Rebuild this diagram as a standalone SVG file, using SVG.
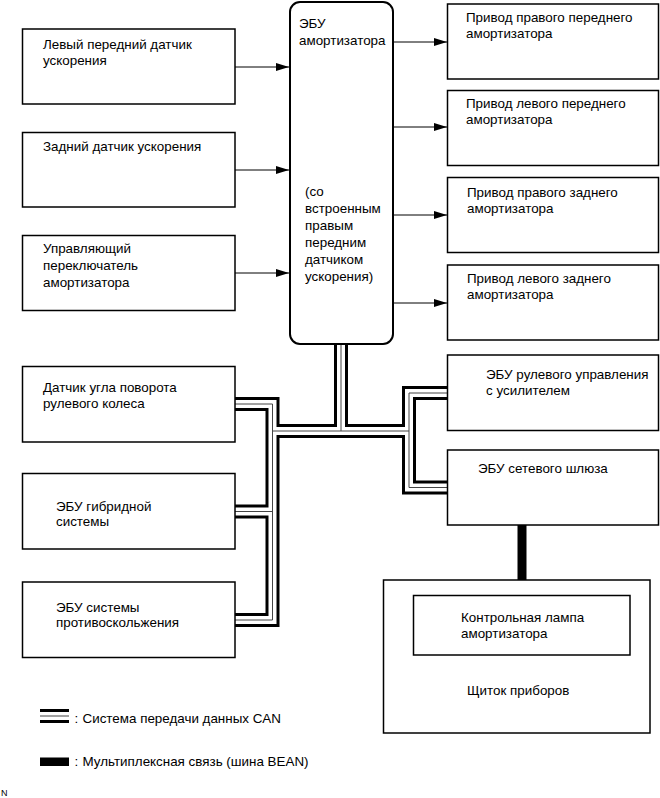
<svg xmlns="http://www.w3.org/2000/svg" width="660" height="798" viewBox="0 0 660 798">
<defs>
<marker id="ah" markerUnits="userSpaceOnUse" markerWidth="13" markerHeight="8" refX="13" refY="4" orient="auto">
<path d="M0,0 L13,4 L0,8 z" fill="#000"/>
</marker>
<style>
text{font-family:"Liberation Sans",Arial,sans-serif;font-size:13.4px;fill:#000}
.box{fill:#fff;stroke:#000;stroke-width:1.5}
.ecu{fill:#fff;stroke:#000;stroke-width:2}
.arr{stroke:#000;stroke-width:1;fill:none;marker-end:url(#ah)}
.b1{fill:none;stroke:#000;stroke-width:14}
.b2{fill:none;stroke:#fff;stroke-width:8}
.b3{fill:none;stroke:#444;stroke-width:1}
.bean{fill:none;stroke:#000;stroke-width:9}
</style>
</defs>
<rect width="660" height="798" fill="#fff"/>

<g id="connectors">
<g id="can-bus">
<path class="b1" d="M341,343 V431"/>
<path class="b1" d="M272.5,431 H409"/>
<path class="b1" d="M235,404 H272.5 V620 H235"/>
<path class="b1" d="M235,511.5 H272.5"/>
<path class="b1" d="M447,393 H409 V487.5 H447"/>
<path class="b2" d="M341,343 V431"/>
<path class="b2" d="M272.5,431 H409"/>
<path class="b2" d="M235,404 H272.5 V620 H235"/>
<path class="b2" d="M235,511.5 H272.5"/>
<path class="b2" d="M447,393 H409 V487.5 H447"/>
<path class="b3" d="M341,343 V431"/>
<path class="b3" d="M272.5,431 H409"/>
<path class="b3" d="M235,404 H272.5 V620 H235"/>
<path class="b3" d="M235,511.5 H272.5"/>
<path class="b3" d="M447,393 H409 V487.5 H447"/>
</g>
<path class="bean" d="M522,525 V580"/>
<path class="arr" d="M235,67 H289"/>
<path class="arr" d="M235,170 H289"/>
<path class="arr" d="M235,273 H289"/>
<path class="arr" d="M393,42 H447"/>
<path class="arr" d="M393,127 H447"/>
<path class="arr" d="M393,215 H447"/>
<path class="arr" d="M393,303 H447"/>
</g>

<g id="ecu-shock">
<rect class="ecu" x="290" y="2" width="103" height="342" rx="10"/>
<text x="299" y="28">ЭБУ</text>
<text x="299" y="45">амортизатора</text>
<text x="305" y="196">(со</text>
<text x="305" y="213">встроенным</text>
<text x="305" y="230">правым</text>
<text x="305" y="247">передним</text>
<text x="305" y="264">датчиком</text>
<text x="305" y="281">ускорения)</text>
</g>

<g id="left-front-sensor">
<rect class="box" x="22.5" y="29" width="212.5" height="75"/>
<text x="43" y="49">Левый передний датчик</text>
<text x="43" y="65">ускорения</text>
</g>
<g id="rear-sensor">
<rect class="box" x="22.5" y="132.5" width="212.5" height="74.5"/>
<text x="43" y="151">Задний датчик ускорения</text>
</g>
<g id="control-switch">
<rect class="box" x="22.5" y="235.5" width="212.5" height="75"/>
<text x="43" y="253">Управляющий</text>
<text x="43" y="270">переключатель</text>
<text x="43" y="287">амортизатора</text>
</g>
<g id="steering-angle-sensor">
<rect class="box" x="22.5" y="366.5" width="212.5" height="75.5"/>
<text x="43" y="392">Датчик угла поворота</text>
<text x="43" y="408">рулевого колеса</text>
</g>
<g id="hybrid-ecu">
<rect class="box" x="22.5" y="473.5" width="212.5" height="75.5"/>
<text x="56" y="511">ЭБУ гибридной</text>
<text x="56" y="526">системы</text>
</g>
<g id="skid-control-ecu">
<rect class="box" x="22.5" y="582" width="212.5" height="75.5"/>
<text x="56" y="612">ЭБУ системы</text>
<text x="56" y="627">противоскольжения</text>
</g>

<g id="act-rf">
<rect class="box" x="447.5" y="4" width="211" height="75"/>
<text x="466" y="22">Привод правого переднего</text>
<text x="466" y="38">амортизатора</text>
</g>
<g id="act-lf">
<rect class="box" x="447.5" y="90.5" width="211" height="75"/>
<text x="466" y="108">Привод левого переднего</text>
<text x="466" y="124">амортизатора</text>
</g>
<g id="act-rr">
<rect class="box" x="447.5" y="177.5" width="211" height="75"/>
<text x="467" y="197">Привод правого заднего</text>
<text x="467" y="213">амортизатора</text>
</g>
<g id="act-lr">
<rect class="box" x="447.5" y="265" width="211" height="75"/>
<text x="467" y="283">Привод левого заднего</text>
<text x="467" y="299">амортизатора</text>
</g>
<g id="eps-ecu">
<rect class="box" x="447.5" y="355" width="211" height="75.5"/>
<text x="486" y="379">ЭБУ рулевого управления</text>
<text x="486" y="395">с усилителем</text>
</g>
<g id="gateway-ecu">
<rect class="box" x="447.5" y="450" width="211" height="75"/>
<text x="478" y="473">ЭБУ сетевого шлюза</text>
</g>
<g id="combination-meter">
<rect class="box" x="383.5" y="580" width="266.5" height="153"/>
<text x="467" y="695">Щиток приборов</text>
</g>
<g id="warning-lamp">
<rect class="box" x="413.5" y="595.5" width="216.5" height="59.5"/>
<text x="461" y="622">Контрольная лампа</text>
<text x="461" y="638">амортизатора</text>
</g>

<g id="legend">
<path class="b1" d="M40,716 H69"/>
<path class="b2" d="M40,716 H69"/>
<path class="b3" d="M40,716 H69"/>
<text x="74.5" y="722.5">:</text>
<text x="82.5" y="722.5">Система передачи данных CAN</text>
<rect x="40" y="757.5" width="29" height="8.5" fill="#000"/>
<text x="74.5" y="765.5">:</text>
<text x="82.5" y="765.5">Мультиплексная связь (шина BEAN)</text>
<text x="1" y="796" style="font-size:9px">N</text>
</g>
</svg>
